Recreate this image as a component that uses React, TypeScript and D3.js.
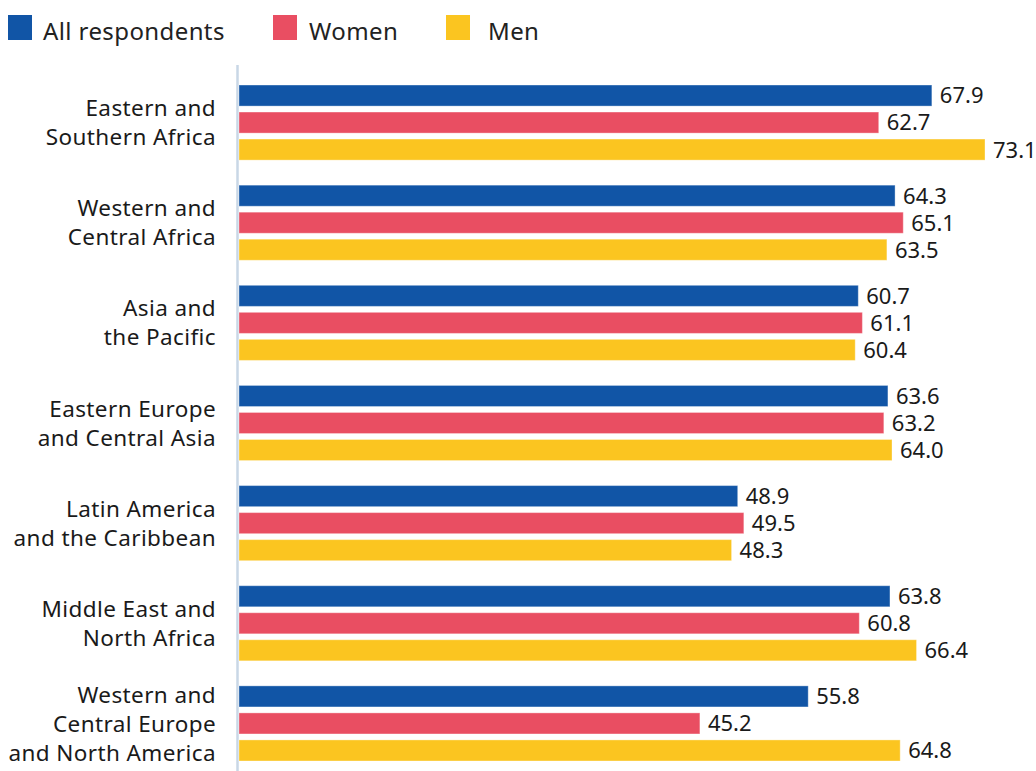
import { useRef, useEffect } from 'react';
import * as d3 from 'd3';

const regions = [
  ['Eastern and', 'Southern Africa'],
  ['Western and', 'Central Africa'],
  ['Asia and', 'the Pacific'],
  ['Eastern Europe', 'and Central Asia'],
  ['Latin America', 'and the Caribbean'],
  ['Middle East and', 'North Africa'],
  ['Western and', 'Central Europe', 'and North America'],
];
const allRespondents = [67.9, 64.3, 60.7, 63.6, 48.9, 63.8, 55.8];
const women = [62.7, 65.1, 61.1, 63.2, 49.5, 60.8, 45.2];
const men = [73.1, 63.5, 60.4, 64.0, 48.3, 66.4, 64.8];
const seriesNames = ['All respondents', 'Women', 'Men'];
const colors = ['#1155a6', '#e94e62', '#fbc520'];

const W = 1036;
const H = 771;
const FONT = '"Noto Sans", sans-serif';

export default function App() {
  const svgRef = useRef<SVGSVGElement>(null);

  useEffect(() => {
    const svg = d3.select(svgRef.current);
    svg.selectAll('*').remove();

    const series = [allRespondents, women, men];
    const keys = regions.map((_, i) => String(i));

    const x = d3.scaleLinear().domain([0, 73.1]).range([238, 985]);
    const y0 = d3.scaleBand().domain(keys).range([73, 773]).paddingInner(0.25).paddingOuter(0.12);
    const y1 = d3.scaleBand().domain(['0', '1', '2']).range([0, y0.bandwidth()]).paddingInner(0.22);

    // Legend
    const legendX = [8, 273, 446];
    const legendTextX = [43, 309, 488];
    seriesNames.forEach((name, i) => {
      svg.append('rect')
        .attr('x', legendX[i]).attr('y', 15)
        .attr('width', 24).attr('height', 25)
        .attr('fill', colors[i]);
      svg.append('text')
        .attr('x', legendTextX[i]).attr('y', 40)
        .attr('font-family', FONT).attr('font-size', 24)
        .attr('letter-spacing', 0.4)
        .attr('fill', '#222')
        .text(name);
    });

    // Axis line
    svg.append('line')
      .attr('x1', 237.5).attr('x2', 237.5)
      .attr('y1', 65).attr('y2', H)
      .attr('stroke', '#c9d7e6').attr('stroke-width', 2.5);

    // Bars
    keys.forEach((k, gi) => {
      const gy = y0(k)!;
      series.forEach((vals, si) => {
        const by = gy + y1(String(si))!;
        const v = vals[gi];
        svg.append('rect')
          .attr('x', x(0) + 1).attr('y', by)
          .attr('width', x(v) - x(0) - 1).attr('height', y1.bandwidth())
          .attr('fill', colors[si])
          .attr('stroke', '#ffffff').attr('stroke-opacity', 0.35).attr('stroke-width', 1);
        svg.append('text')
          .attr('x', x(v) + 8).attr('y', by + y1.bandwidth() / 2)
          .attr('dy', '0.36em')
          .attr('font-family', FONT).attr('font-size', 22)
          .attr('fill', '#1a1a1a')
          .text(v.toFixed(1));
      });

      // Category labels
      const lines = regions[gi];
      const cy = gy + y0.bandwidth() / 2;
      const lh = 29;
      lines.forEach((ln, li) => {
        svg.append('text')
          .attr('x', 216)
          .attr('y', cy + (li - (lines.length - 1) / 2) * lh)
          .attr('dy', '0.36em')
          .attr('text-anchor', 'end')
          .attr('font-family', FONT).attr('font-size', 22.5)
          .attr('letter-spacing', 0.4)
          .attr('fill', '#1a1a1a')
          .text(ln);
      });
    });
  }, []);

  return (
    <svg
      ref={svgRef}
      width={W}
      height={H}
      style={{ position: 'absolute', left: 0, top: 0, display: 'block', background: '#fff' }}
    />
  );
}
